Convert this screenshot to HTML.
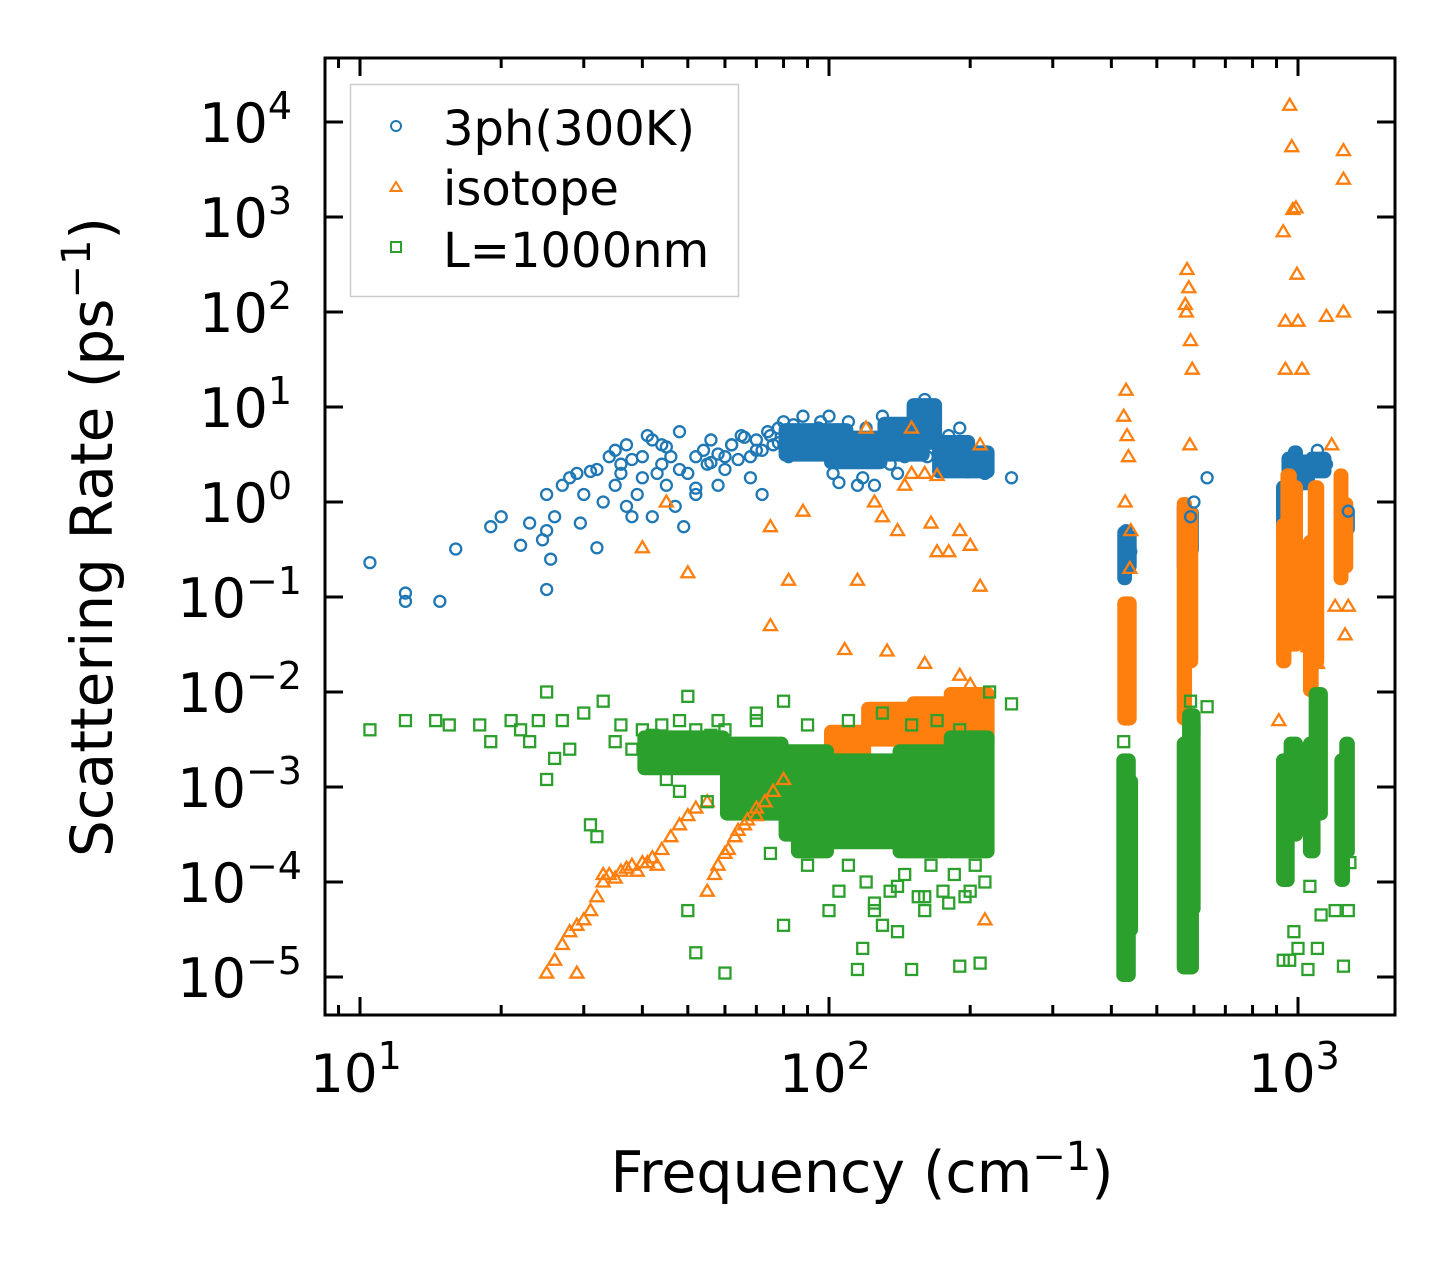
<!DOCTYPE html>
<html><head><meta charset="utf-8"><style>
html,body{margin:0;padding:0;background:#fff;}
svg{display:block;font-family:"DejaVu Sans","Liberation Sans",sans-serif;}
</style></head><body>
<svg id="chart" width="1455" height="1265" viewBox="0 0 1455 1265" xmlns="http://www.w3.org/2000/svg">
<rect width="1455" height="1265" fill="#fff"/>
<g id="blobs"></g>
<g id="marks"></g>
<g id="axes"></g>
<text transform="translate(112,537) rotate(-90)" text-anchor="middle" font-size="58">Scattering Rate (ps<tspan dy="-22" font-size="40">−1</tspan><tspan dy="22">)</tspan></text>
<text x="862" y="1192" text-anchor="middle" font-size="57">Frequency (cm<tspan dy="-22" font-size="40">−1</tspan><tspan dy="22">)</tspan></text>
<g>
<rect x="350.5" y="84.5" width="388" height="212" fill="#fff" stroke="#ccc" stroke-width="1.5"/>
<circle cx="396" cy="126" r="5" fill="none" stroke="#1f77b4" stroke-width="2"/>
<text x="443" y="145" font-size="48">3ph(300K)</text>
<path d="M396,182 L401.5,191 L390.5,191 Z" fill="none" stroke="#ff7f0e" stroke-width="2"/>
<text x="443" y="205" font-size="48">isotope</text>
<rect x="391" y="242" width="10" height="10" fill="none" stroke="#2ca02c" stroke-width="2"/>
<text x="443" y="267" font-size="48">L=1000nm</text>
</g>
</svg>
<script>
const xTickExps=[1,2,3];
const yTickExps=[4,3,2,1,0,-1,-2,-3,-4,-5];
// dense clusters: [fLo,fHi,rLo,rHi]
const blueBlobs=[[422,432,0.15,0.5],[430,442,0.2,0.45],[565,580,0.2,0.9],[578,600,0.3,0.8],[920,950,0.5,1.5],[945,975,0.6,3],[975,1000,1,3.5],[1000,1060,1.5,2.8],[1060,1150,2,3],[1240,1290,0.5,0.8],[100,130,2.5,5],[130,160,3,7],[150,170,4,11],[170,200,2,4.5],[195,220,2,3.5],[80,110,3,6]];
const orangeBlobs=[[422,442,0.005,0.09],[565,580,0.005,1],[580,598,0.02,0.8],[920,945,0.02,0.6],[940,970,0.05,2],[965,1000,0.03,1.5],[1050,1080,0.01,0.4],[1075,1110,0.02,1.5],[1220,1250,0.15,2],[1250,1280,0.2,1],[120,150,0.003,0.007],[150,180,0.003,0.008],[180,220,0.003,0.01],[100,120,0.0015,0.004]];
const greenBlobs=[[420,440,1e-5,2e-3],[432,445,3e-5,1.2e-3],[565,600,1.2e-5,3e-3],[580,605,5e-5,6e-3],[920,960,1e-4,2e-3],[955,1000,3e-4,3e-3],[1050,1090,2e-4,3e-3],[1080,1130,5e-4,1e-2],[1225,1260,1e-4,2e-3],[1255,1290,2e-4,3e-3],[60,80,5e-4,3e-3],[80,100,3e-4,2.5e-3],[100,140,2.5e-4,2e-3],[140,180,2e-4,2.5e-3],[180,220,2e-4,3.5e-3],[40,60,1.5e-3,3.5e-3],[85,100,2e-4,1.5e-3]];
const blueF=[10.5,12.5,12.5,14.8,16,19,20,22,23,24.5,25,25,25,25.5,26,27,28,29,29.5,30,31,32,32,33,34,35,36,37,37,38,39,40,41,42,43,44,45,46,47,48,49,50,52,54,56,58,60,62,65,68,70,72,75,78,80,82,85,88,90,95,100,102,105,110,112,115,120,125,130,135,140,145,150,155,160,162,165,170,175,180,185,190,195,200,205,210,215,245,640,600,590,430,440,1100,1150,1280,35,38,42,45,55,58,62,66,70,74,78,84,90,96,60,64,52,36,40,44,48,52,56,68,72,76,105,118,125,140];
const blueR=[0.23,0.11,0.09,0.09,0.32,0.55,0.7,0.35,0.6,0.4,0.5,1.2,0.12,0.25,0.7,1.5,1.8,2,0.6,1.2,2.1,0.33,2.2,1,3,1.5,2.5,0.9,4,0.7,1.2,3,5,0.7,2,4,1.5,3,0.9,5.5,0.55,2,1.4,3.5,4.5,1.5,3,4,5,3,4.5,1.2,5,6,7,3,5,8,4,6,8,2,5,7,3,1.5,6,4,8,2.5,6,3,5,9,12,3,7,4,2.5,5,3,6,4,3,2.5,3,2,1.8,1.8,1,0.7,0.5,0.3,3.5,2.5,0.8,3.5,2.8,4.5,3.8,2.5,3.2,4,4.8,3.5,5.5,4.2,6.5,5,7,2.2,2.8,1.2,2,1.8,2.5,2.2,3,2.6,1.8,3.5,4,1.6,1.8,1.5,2];
const orangeF=[25,26,27,28,29,30,31,32,33,34,36,38,40,42,44,46,48,50,52,55,55,57,60,63,66,70,73,76,80,29,40,45,50,75,75,82,88,108,115,125,130,133,140,145,150,165,170,180,190,200,210,120,150,160,170,210,215,430,425,435,440,428,432,438,580,585,575,590,595,578,588,930,940,960,970,975,990,995,1000,1020,1150,1250,1250,1250,940,1180,1200,1260,1280,1100,910,1050,130,160,200,190,33,35,37,39,41,43,58,61,64,67,70];
const orangeR=[1.1e-5,1.5e-5,2.2e-5,3e-5,3.5e-5,4e-5,5e-5,7e-5,1e-4,1.2e-4,1.3e-4,1.5e-4,1.6e-4,1.8e-4,2.2e-4,3e-4,4e-4,5e-4,6e-4,7e-4,8e-5,1.2e-4,2e-4,3e-4,4e-4,5e-4,7e-4,9e-4,1.2e-3,1.1e-5,0.33,1.0,0.18,0.55,0.05,0.15,0.8,0.028,0.15,1.0,0.7,0.027,0.5,1.5,2,0.6,0.3,0.3,0.5,0.35,0.13,6,6,2,1.9,4,4e-5,15,8,3,0.5,1,5,0.2,280,180,120,50,25,100,4,700,25,15000,5500,1200,1250,250,80,25,90,100,5000,2500,80,4,0.08,0.04,0.08,0.02,0.005,0.03,0.006,0.02,0.012,0.015,1.2e-4,1.1e-4,1.4e-4,1.3e-4,1.6e-4,1.5e-4,1.5e-4,2.2e-4,3.5e-4,4.5e-4,6e-4];
const greenF=[10.5,12.5,14.5,15.5,18,19,21,22,23,24,25,25,26,27,28,30,31,32,33,50,52,60,80,100,115,118,125,130,140,150,160,190,210,220,245,50,80,35,38,42,45,48,55,58,65,70,75,90,105,110,120,135,145,155,165,175,185,195,205,215,125,140,160,180,200,425,430,440,580,590,600,640,930,960,1000,1050,1100,1200,1250,1280,1290,1120,1060,980,36,40,44,48,52,56,60,70,90,110,130,150,170,190];
const greenR=[4e-3,5e-3,5e-3,4.5e-3,4.5e-3,3e-3,5e-3,4e-3,3e-3,5e-3,1e-2,1.2e-3,2e-3,5e-3,2.5e-3,6e-3,4e-4,3e-4,8e-3,5e-5,1.8e-5,1.1e-5,3.5e-5,5e-5,1.2e-5,2e-5,5e-5,3.5e-5,3e-5,1.2e-5,5e-5,1.3e-5,1.4e-5,1e-2,7.5e-3,9e-3,8e-3,3e-3,2.5e-3,3.5e-3,1.2e-3,9e-4,7e-4,5e-3,9e-4,6e-3,2e-4,1.5e-4,8e-5,1.5e-4,1e-4,8e-5,1.2e-4,7e-5,1.5e-4,8e-5,1.2e-4,7e-5,1.5e-4,1e-4,6e-5,9e-5,7e-5,6e-5,8e-5,3e-3,1.2e-5,4e-5,2e-5,8e-3,4e-3,7e-3,1.5e-5,1.5e-5,2e-5,1.2e-5,2e-5,5e-5,1.3e-5,5e-5,1.6e-4,4.5e-5,9e-5,3e-5,4.5e-3,4e-3,4.5e-3,5e-3,4e-3,3.5e-3,4e-3,5e-3,4.5e-3,5e-3,6e-3,4.5e-3,5e-3,4e-3];
const X0=360,DX=469,Y0=502,DY=95;
function fx(v){return X0+DX*Math.log10(v/10);}
function fy(v){return Y0-DY*Math.log10(v);}
const NS="http://www.w3.org/2000/svg";
function mk(t,a,p){const e=document.createElementNS(NS,t);for(const k in a)e.setAttribute(k,a[k]);p.appendChild(e);return e;}
const blobs=document.getElementById('blobs'),marks=document.getElementById('marks'),axes=document.getElementById('axes');
function drawBlobs(arr,col,name){arr.forEach(b=>{const x1=fx(b[0]),x2=fx(b[1]),y1=fy(b[3]),y2=fy(b[2]);
const r=mk('rect',{x:x1-5,y:y1-5,width:x2-x1+10,height:y2-y1+10,rx:7,fill:col},blobs);

});}
function drawPts(F,R,type,col,name){for(let i=0;i<F.length;i++){const x=fx(F[i]),y=fy(R[i]);let e;
if(type==='c')e=mk('circle',{cx:x,cy:y,r:5.5,fill:'none',stroke:col,'stroke-width':2.3},marks);
else if(type==='t')e=mk('path',{d:`M${x},${y-6.5}L${x+6.5},${y+4.5}L${x-6.5},${y+4.5}Z`,fill:'none',stroke:col,'stroke-width':2.3},marks);
else e=mk('rect',{x:x-5.5,y:y-5.5,width:11,height:11,fill:'none',stroke:col,'stroke-width':2.3},marks);

}}
drawBlobs(blueBlobs,'#1f77b4','3ph-cluster');
drawPts(blueF,blueR,'c','#1f77b4','3ph-point');
drawBlobs(orangeBlobs,'#ff7f0e','isotope-cluster');
drawPts(orangeF,orangeR,'t','#ff7f0e','isotope-point');
drawBlobs(greenBlobs,'#2ca02c','boundary-cluster');
drawPts(greenF,greenR,'s','#2ca02c','boundary-point');
const L=325,R=1395,T=58,B=1015;
const fr=mk('rect',{x:L,y:T,width:R-L,height:B-T,fill:'none',stroke:'#000','stroke-width':3},axes);


for(let e=0;e<=3;e++){for(let m=1;m<10;m++){const v=m*Math.pow(10,e);const x=fx(v);if(x<L+1||x>R-1)continue;const len=m===1?18:10;
const t1=mk('line',{x1:x,x2:x,y1:B,y2:B-len,stroke:'#000','stroke-width':3},axes);


const t2=mk('line',{x1:x,x2:x,y1:T,y2:T+len,stroke:'#000','stroke-width':3},axes);

}}
xTickExps.forEach(e=>{const x=fx(Math.pow(10,e));const t=mk('text',{x:x-4,y:1092,'text-anchor':'middle','font-size':53},axes);


t.innerHTML='10<tspan dy="-23" font-size="38">'+e+'</tspan>';});
yTickExps.forEach(e=>{const y=fy(Math.pow(10,e));
const a=mk('line',{x1:L,x2:L+18,y1:y,y2:y,stroke:'#000','stroke-width':3},axes);


const b=mk('line',{x1:R,x2:R-18,y1:y,y2:y,stroke:'#000','stroke-width':3},axes);


const t=mk('text',{x:e<0?302:292,y:y+20,'text-anchor':'end','font-size':54},axes);


t.innerHTML='10<tspan dy="-23" font-size="38">'+(e<0?'−'+(-e):e)+'</tspan>';});
</script>
</body></html>
